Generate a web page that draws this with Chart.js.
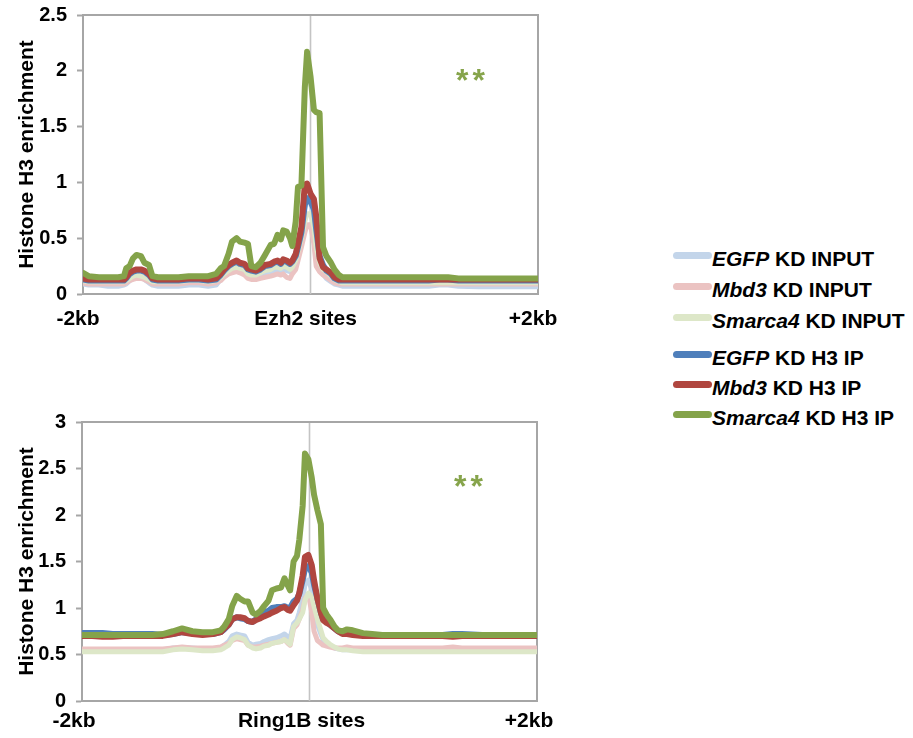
<!DOCTYPE html>
<html>
<head>
<meta charset="utf-8">
<script src="https://cdn.jsdelivr.net/npm/chart.js@4/dist/chart.umd.min.js"></script>
<style>
html,body{margin:0;padding:0;background:#fff;}
body{width:913px;height:738px;position:relative;overflow:hidden;font-family:"Liberation Sans",Arial,Helvetica,sans-serif;}
canvas{position:absolute;left:0;}
#c1{top:0;}
#c2{top:380px;}
.stars{position:absolute;color:#86a44b;font-size:32px;line-height:32px;font-weight:bold;letter-spacing:4px;white-space:nowrap;}
.sw{position:absolute;left:673px;width:39px;height:7px;border-radius:4px;}
.lt{position:absolute;left:712px;font-size:21px;line-height:24px;font-weight:bold;color:#000;white-space:nowrap;}
.lt i{font-style:italic;}
</style>
</head>
<body>
<canvas id="c1" width="560" height="340"></canvas>
<canvas id="c2" width="560" height="358"></canvas>
<div class="stars" style="left:456px;top:64px;">**</div>
<div class="stars" style="left:454px;top:470px;">**</div>
<div id="legend"></div>
<script>
// ---------- DATA ----------
const seriesNames = ["EGFP", "Mbd3", "Smarca4", "EGFP", "Mbd3", "Smarca4"];
const seriesSuffix = [" KD INPUT", " KD INPUT", " KD INPUT", " KD H3 IP", " KD H3 IP", " KD H3 IP"];
const seriesColors = ["#c3d5ea", "#ebc3c2", "#dde7c8", "#4f7fbb", "#b0463f", "#84a34a"];
const xTickValues = [-2000, 0, 2000];
const topXTickLabels = ["-2kb", "Ezh2 sites", "+2kb"];
const bottomXTickLabels = ["-2kb", "Ring1B sites", "+2kb"];
const yTitle = "Histone H3 enrichment";
const starText = "**";

// Ezh2 sites (top panel) : positions in bp relative to site
const topPositions = [-2000,-1950,-1860,-1780,-1690,-1640,-1620,-1590,-1560,-1530,-1490,-1460,-1420,-1390,-1340,-1250,-1160,-1070,-980,-900,-830,-790,-760,-720,-690,-650,-620,-580,-550,-520,-480,-440,-400,-350,-320,-290,-260,-240,-210,-180,-160,-130,-110,-80,-50,-30,0,30,50,80,110,140,180,210,250,280,330,420,600,770,950,1040,1130,1210,1300,1480,1650,1830,2000];
const topEgfpInput = [0.09,0.08,0.08,0.07,0.07,0.08,0.09,0.12,0.14,0.16,0.15,0.13,0.10,0.08,0.07,0.07,0.07,0.08,0.08,0.07,0.08,0.13,0.17,0.20,0.21,0.22,0.21,0.19,0.16,0.16,0.15,0.17,0.19,0.20,0.21,0.22,0.21,0.22,0.21,0.20,0.24,0.32,0.45,0.60,0.78,0.84,0.82,0.68,0.45,0.25,0.18,0.14,0.11,0.09,0.08,0.07,0.07,0.07,0.07,0.07,0.07,0.07,0.08,0.08,0.07,0.065,0.065,0.065,0.065];
const topMbd3Input = [0.10,0.09,0.09,0.09,0.09,0.09,0.10,0.12,0.13,0.14,0.14,0.13,0.11,0.09,0.09,0.09,0.09,0.10,0.10,0.09,0.10,0.12,0.15,0.18,0.19,0.20,0.19,0.17,0.14,0.13,0.13,0.14,0.15,0.16,0.17,0.18,0.17,0.18,0.15,0.14,0.18,0.22,0.30,0.42,0.55,0.62,0.62,0.45,0.25,0.20,0.17,0.15,0.12,0.10,0.09,0.09,0.09,0.09,0.09,0.09,0.09,0.09,0.09,0.09,0.09,0.09,0.09,0.09,0.09];
const topSmarca4Input = [0.12,0.11,0.11,0.11,0.11,0.11,0.12,0.14,0.16,0.17,0.16,0.15,0.13,0.11,0.11,0.11,0.11,0.12,0.12,0.11,0.12,0.15,0.18,0.21,0.23,0.24,0.23,0.22,0.18,0.17,0.17,0.19,0.21,0.22,0.24,0.24,0.23,0.25,0.24,0.22,0.24,0.30,0.38,0.50,0.65,0.72,0.72,0.60,0.42,0.28,0.22,0.20,0.16,0.13,0.11,0.10,0.10,0.10,0.10,0.10,0.10,0.10,0.10,0.10,0.10,0.10,0.10,0.10,0.10];
const topEgfpIP = [0.13,0.12,0.12,0.12,0.12,0.12,0.14,0.18,0.20,0.21,0.21,0.20,0.17,0.13,0.12,0.12,0.12,0.13,0.13,0.12,0.13,0.17,0.21,0.25,0.27,0.29,0.27,0.26,0.22,0.21,0.20,0.22,0.25,0.26,0.28,0.29,0.27,0.30,0.29,0.27,0.29,0.34,0.42,0.55,0.80,0.86,0.83,0.76,0.58,0.34,0.26,0.21,0.18,0.14,0.12,0.12,0.12,0.12,0.12,0.12,0.12,0.12,0.13,0.13,0.12,0.12,0.12,0.12,0.12];
const topMbd3IP = [0.14,0.13,0.13,0.13,0.13,0.13,0.15,0.19,0.21,0.22,0.22,0.21,0.18,0.14,0.13,0.13,0.13,0.14,0.14,0.13,0.14,0.18,0.22,0.26,0.28,0.30,0.28,0.27,0.23,0.22,0.21,0.23,0.26,0.27,0.29,0.30,0.28,0.31,0.30,0.28,0.30,0.36,0.45,0.60,0.98,0.99,0.90,0.85,0.70,0.32,0.24,0.22,0.19,0.15,0.13,0.13,0.13,0.13,0.13,0.13,0.13,0.13,0.13,0.13,0.13,0.13,0.13,0.13,0.13];
const topSmarca4IP = [0.19,0.16,0.15,0.15,0.15,0.16,0.23,0.25,0.32,0.35,0.34,0.28,0.26,0.16,0.15,0.15,0.15,0.16,0.16,0.16,0.18,0.23,0.25,0.36,0.47,0.50,0.47,0.46,0.45,0.25,0.24,0.28,0.35,0.44,0.45,0.53,0.49,0.57,0.56,0.50,0.43,0.65,0.96,0.97,1.85,2.17,1.95,1.65,1.63,1.62,0.42,0.34,0.28,0.22,0.17,0.15,0.15,0.15,0.15,0.15,0.15,0.15,0.15,0.15,0.14,0.14,0.14,0.14,0.14];

// Ring1B sites (bottom panel)
const bottomPositions = [-2000,-1910,-1820,-1730,-1640,-1560,-1470,-1380,-1290,-1200,-1120,-1030,-940,-850,-780,-750,-710,-680,-640,-610,-570,-540,-500,-470,-430,-400,-360,-330,-290,-250,-220,-190,-170,-140,-110,-90,-60,-40,-10,20,40,70,100,120,150,180,220,250,290,330,380,470,550,640,820,990,1170,1260,1340,1520,1700,1870,2000];
const bottomEgfpInput = [0.55,0.55,0.55,0.55,0.55,0.55,0.55,0.55,0.55,0.57,0.57,0.57,0.56,0.56,0.57,0.60,0.64,0.70,0.72,0.71,0.70,0.63,0.60,0.61,0.62,0.64,0.66,0.67,0.68,0.70,0.72,0.69,0.68,0.83,0.87,0.95,1.10,1.25,1.30,1.20,1.00,0.82,0.72,0.66,0.63,0.60,0.57,0.56,0.55,0.55,0.55,0.55,0.55,0.55,0.55,0.55,0.55,0.55,0.55,0.55,0.55,0.55,0.55];
const bottomMbd3Input = [0.56,0.56,0.56,0.56,0.56,0.56,0.56,0.56,0.56,0.57,0.58,0.57,0.57,0.57,0.58,0.60,0.62,0.65,0.67,0.66,0.65,0.60,0.58,0.58,0.59,0.60,0.61,0.62,0.63,0.64,0.66,0.62,0.60,0.78,0.82,0.88,0.98,1.10,1.15,0.95,0.75,0.65,0.62,0.60,0.59,0.58,0.57,0.57,0.57,0.58,0.57,0.57,0.57,0.57,0.57,0.57,0.57,0.58,0.57,0.57,0.57,0.57,0.57];
const bottomSmarca4Input = [0.53,0.53,0.53,0.53,0.53,0.53,0.53,0.53,0.53,0.55,0.56,0.55,0.54,0.54,0.55,0.57,0.60,0.66,0.69,0.68,0.66,0.60,0.57,0.56,0.57,0.59,0.60,0.62,0.63,0.64,0.66,0.63,0.61,0.80,0.84,0.88,0.95,1.08,1.16,1.12,1.02,0.88,0.76,0.68,0.64,0.61,0.58,0.56,0.55,0.55,0.54,0.53,0.53,0.53,0.53,0.53,0.53,0.53,0.53,0.53,0.53,0.53,0.53];
const bottomEgfpIP = [0.73,0.73,0.73,0.72,0.72,0.72,0.72,0.72,0.71,0.72,0.74,0.73,0.72,0.72,0.74,0.77,0.82,0.88,0.90,0.89,0.88,0.86,0.85,0.88,0.92,0.95,0.97,1.00,1.01,1.01,1.02,1.00,1.00,1.07,1.10,1.15,1.30,1.42,1.45,1.38,1.25,1.10,0.95,0.88,0.85,0.82,0.78,0.75,0.73,0.72,0.72,0.71,0.71,0.71,0.71,0.71,0.71,0.72,0.72,0.71,0.71,0.71,0.71];
const bottomMbd3IP = [0.70,0.70,0.69,0.69,0.70,0.70,0.70,0.70,0.70,0.72,0.74,0.72,0.71,0.72,0.74,0.78,0.82,0.88,0.90,0.90,0.89,0.86,0.85,0.87,0.89,0.91,0.93,0.95,0.97,1.00,1.01,0.98,0.97,1.03,1.08,1.16,1.35,1.55,1.57,1.46,1.30,1.10,0.95,0.87,0.84,0.82,0.78,0.75,0.72,0.72,0.71,0.70,0.70,0.70,0.70,0.70,0.70,0.69,0.70,0.70,0.70,0.70,0.70];
const bottomSmarca4IP = [0.71,0.71,0.71,0.71,0.71,0.71,0.71,0.71,0.72,0.75,0.78,0.75,0.74,0.74,0.76,0.80,0.88,1.02,1.13,1.10,1.07,1.07,0.95,0.93,0.97,1.02,1.08,1.19,1.21,1.22,1.32,1.24,1.19,1.50,1.56,1.73,2.10,2.66,2.60,2.40,2.22,2.05,1.90,1.00,0.93,0.88,0.80,0.76,0.75,0.77,0.76,0.73,0.72,0.71,0.71,0.71,0.71,0.71,0.71,0.71,0.71,0.71,0.71];

const topSeries = [topEgfpInput, topMbd3Input, topSmarca4Input, topEgfpIP, topMbd3IP, topSmarca4IP];
const bottomSeries = [bottomEgfpInput, bottomMbd3Input, bottomSmarca4Input, bottomEgfpIP, bottomMbd3IP, bottomSmarca4IP];

// ---------- RENDER ----------
const FONT = '"Liberation Sans", Arial, Helvetica, sans-serif';
const AXIS = '#a6a6a6';

const framePlugin = {
  id: 'frame',
  beforeDatasetsDraw(chart) {
    const {ctx, chartArea: a, scales: {x}} = chart;
    ctx.save();
    ctx.strokeStyle = '#c4c4c4';
    ctx.lineWidth = 1.6;
    const cx = x.getPixelForValue(0);
    ctx.beginPath(); ctx.moveTo(cx, a.top); ctx.lineTo(cx, a.bottom); ctx.stroke();
    ctx.strokeStyle = AXIS;
    ctx.lineWidth = 2;
    ctx.beginPath(); ctx.moveTo(a.left, a.top); ctx.lineTo(a.right, a.top); ctx.lineTo(a.right, a.bottom); ctx.stroke();
    ctx.restore();
  }
};

function buildChart(id, positions, series, xLabels, cfg) {
  const datasets = series.map((vals, i) => ({
    label: seriesNames[i] + seriesSuffix[i],
    data: positions.map((x, j) => ({x: x, y: vals[j]})),
    borderColor: seriesColors[i],
    borderWidth: i < 3 ? 5 : 6,
    pointRadius: 0,
    tension: 0,
    fill: false,
    borderJoinStyle: 'round',
    borderCapStyle: 'round',
    order: 6 - i
  }));
  return new Chart(document.getElementById(id), {
    type: 'line',
    data: {datasets: datasets},
    options: {
      responsive: false,
      animation: false,
      events: [],
      layout: {padding: cfg.padding, autoPadding: false},
      plugins: {legend: {display: false}, tooltip: {enabled: false}},
      scales: {
        x: {
          type: 'linear', min: -2000, max: 2000,
          afterBuildTicks: s => { s.ticks = xTickValues.map(v => ({value: v})); },
          ticks: {
            autoSkip: false, maxRotation: 0,
            callback: v => xLabels[xTickValues.indexOf(v)],
            font: {family: FONT, size: 21, weight: 'bold'}, color: '#000',
            padding: cfg.xPad, labelOffset: cfg.xOffset
          },
          grid: {display: false, drawTicks: false},
          border: {display: true, color: AXIS, width: 2},
          afterFit: s => { s.height = cfg.xHeight; s.paddingLeft = 0; s.paddingRight = 0; }
        },
        y: {
          min: 0, max: cfg.yMax,
          ticks: {stepSize: 0.5, callback: v => String(v), font: {family: FONT, size: 20, weight: 'bold'}, color: '#000', padding: 10},
          grid: {drawOnChartArea: false, drawTicks: true, tickLength: 6, tickColor: AXIS, tickWidth: 2},
          border: {display: true, color: AXIS, width: 2},
          title: {display: true, text: yTitle, font: {family: FONT, size: 21, weight: 'bold'}, color: '#000', padding: {top: 15, bottom: 0}},
          afterFit: s => { s.width = cfg.yWidth; s.paddingTop = 0; s.paddingBottom = 0; }
        }
      }
    },
    plugins: [framePlugin]
  });
}

buildChart('c1', topPositions, topSeries, topXTickLabels,
  {padding: {left: 0, right: 22, top: 15, bottom: 6}, xHeight: 40, yWidth: 83, yMax: 2.5, xPad: 13, xOffset: -5});
buildChart('c2', bottomPositions, bottomSeries, bottomXTickLabels,
  {padding: {left: 0, right: 23, top: 42, bottom: 5}, xHeight: 32, yWidth: 82, yMax: 3, xPad: 8, xOffset: -8});

// legend
const legendCenters = [255, 286, 317, 354, 384, 414];
const legend = document.getElementById('legend');
seriesNames.forEach((n, i) => {
  const sw = document.createElement('div');
  sw.className = 'sw';
  sw.style.top = (legendCenters[i] - 3.5) + 'px';
  sw.style.background = seriesColors[i];
  legend.appendChild(sw);
  const t = document.createElement('div');
  t.className = 'lt';
  t.style.top = (legendCenters[i] + 4 - 12) + 'px';
  const it = document.createElement('i');
  it.textContent = n;
  t.appendChild(it);
  t.appendChild(document.createTextNode(seriesSuffix[i]));
  legend.appendChild(t);
});
</script>
</body>
</html>
